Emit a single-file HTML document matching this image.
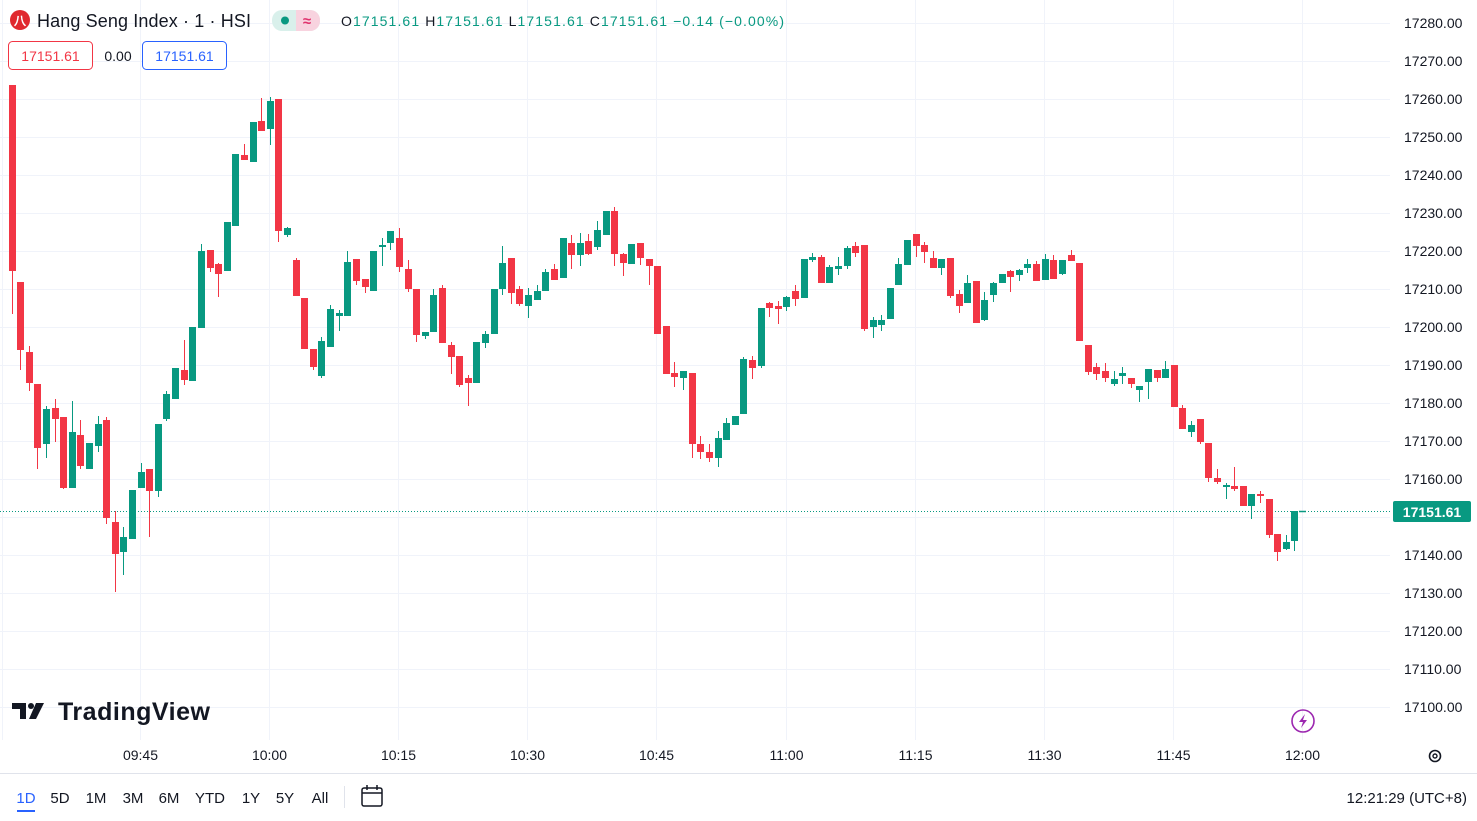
<!DOCTYPE html>
<html><head><meta charset="utf-8"><style>
html,body{margin:0;padding:0;background:#fff;overflow:hidden}
svg{display:block;font-family:"Liberation Sans",sans-serif}
</style></head><body>
<svg id="s" width="1477" height="821" xmlns="http://www.w3.org/2000/svg">
<rect width="1477" height="821" fill="#fff"/>
<g id="grid" stroke="#f0f3fa" stroke-width="1"></g>
<line x1="0" y1="511.5" x2="1392" y2="511.5" stroke="#089981" stroke-width="1" stroke-dasharray="1,2"/>
<g id="candles"></g>
<g id="yl" font-size="14" fill="#131722"></g>
<rect x="1393" y="501" width="78" height="21" rx="2" fill="#089981"/>
<text x="1432" y="517" font-size="14" fill="#fff" text-anchor="middle" font-weight="bold">17151.61</text>
<g id="xl" font-size="14" fill="#131722" text-anchor="middle"></g>
<text x="-8" y="760" font-size="14" fill="#131722">4</text>
<!-- header -->
<circle cx="20" cy="20" r="10" fill="#e0292e"/>
<text x="20" y="25" font-size="12" fill="#fff" text-anchor="middle" font-weight="bold">八</text>
<text x="37" y="27" font-size="18" fill="#131722" textLength="214">Hang Seng Index · 1 · HSI</text>
<rect x="272" y="10" width="48" height="21" rx="10" fill="#d9f0eb"/>
<path d="M296 10 h14 a10 10 0 0 1 10 10.5 a10 10 0 0 1 -10 10.5 h-14z" fill="#f8d3df"/>
<circle cx="285" cy="20.5" r="4" fill="#089981"/>
<text x="307" y="26" font-size="15" fill="#e0336d" text-anchor="middle" font-weight="bold">≈</text>
<text x="341" y="26" font-size="14" fill="#089981" textLength="443"><tspan fill="#131722">O</tspan>17151.61 <tspan fill="#131722">H</tspan>17151.61 <tspan fill="#131722">L</tspan>17151.61 <tspan fill="#131722">C</tspan>17151.61 −0.14 (−0.00%)</text>
<rect x="8.5" y="41.5" width="84" height="28" rx="4" fill="#fff" stroke="#f23645"/>
<text x="50.5" y="61" font-size="14" fill="#f23645" text-anchor="middle">17151.61</text>
<text x="118" y="61" font-size="14" fill="#131722" text-anchor="middle">0.00</text>
<rect x="142.5" y="41.5" width="84" height="28" rx="4" fill="#fff" stroke="#2962ff"/>
<text x="184.5" y="61" font-size="14" fill="#2962ff" text-anchor="middle">17151.61</text>
<!-- logo -->
<path d="M12 703 h14 v16 h-6 v-10 h-8z" fill="#131722"/>
<circle cx="31" cy="706" r="3" fill="#131722"/>
<path d="M36 703 h8 l-8 16 h-7z" fill="#131722"/>
<text x="58" y="720" font-size="25" fill="#131722" font-weight="bold" textLength="152">TradingView</text>
<!-- lightning -->
<circle cx="1303" cy="721" r="11" fill="none" stroke="#9c27b0" stroke-width="1.6"/>
<path d="M1305 714 l-6 8 h4 l-2 6 l6 -8 h-4z" fill="#9c27b0"/>
<!-- gear -->
<circle cx="1435" cy="756" r="5.5" fill="none" stroke="#131722" stroke-width="1.6"/>
<circle cx="1435" cy="756" r="2" fill="none" stroke="#131722" stroke-width="1.4"/>
<!-- bottom toolbar -->
<line x1="0" y1="773.5" x2="1477" y2="773.5" stroke="#e0e3eb"/>
<g font-size="15" fill="#131722" text-anchor="middle">
<text x="26" y="803" fill="#2962ff">1D</text>
<text x="60" y="803">5D</text><text x="96" y="803">1M</text><text x="133" y="803">3M</text>
<text x="169" y="803">6M</text><text x="210" y="803">YTD</text><text x="251" y="803">1Y</text>
<text x="285" y="803">5Y</text><text x="320" y="803">All</text>
</g>
<rect x="17" y="810" width="18" height="2" fill="#2962ff"/>
<line x1="344.5" y1="786" x2="344.5" y2="808" stroke="#e0e3eb"/>
<rect x="362" y="788" width="20" height="18" rx="2" fill="none" stroke="#131722" stroke-width="1.5"/>
<line x1="362" y1="793" x2="382" y2="793" stroke="#131722" stroke-width="1.5"/>
<line x1="367" y1="785" x2="367" y2="790" stroke="#131722" stroke-width="1.5"/>
<line x1="377" y1="785" x2="377" y2="790" stroke="#131722" stroke-width="1.5"/>
<text x="1467" y="803" font-size="15" fill="#131722" text-anchor="end">12:21:29 (UTC+8)</text>
</svg>
<script>
var NS="http://www.w3.org/2000/svg";
function el(p,t,a,txt){var e=document.createElementNS(NS,t);for(var k in a)e.setAttribute(k,a[k]);if(txt!=null)e.textContent=txt;p.appendChild(e);return e;}
var grid=document.getElementById('grid'),yl=document.getElementById('yl'),xl=document.getElementById('xl'),cg=document.getElementById('candles');
for(var k=0;k<=18;k++){var y=23+k*38;el(grid,'line',{x1:0,x2:1390,y1:y+0.5,y2:y+0.5});
 if(17280-k*10!==17150) el(yl,'text',{x:1404,y:y+5},(17280-k*10).toFixed(2));}
var tl=['09:45','10:00','10:15','10:30','10:45','11:00','11:15','11:30','11:45','12:00'];
el(grid,'line',{x1:2.5,x2:2.5,y1:0,y2:740});
for(var i=0;i<10;i++){var x=Math.round(140+129.1*i)+0.5;el(grid,'line',{x1:x,x2:x,y1:0,y2:740});el(xl,'text',{x:x,y:760},tl[i]);}
var D=[[85,271,85,314,'r'],[282,350,282,370,'r'],[352,383,346,391,'r'],[384,448,384,469,'r'],[409,444,406,458,'g'],[408,419,399,442,'r'],[417,488,417,489,'r'],[432,488,401,488,'g'],[435,466,420,469,'r'],[443,469,443,469,'g'],
[424,446,416,452,'g'],[420,518,417,524,'r'],[522,554,511,592,'r'],[537,552,527,575,'g'],[490,539,490,539,'g'],[472,488,463,488,'g'],[469,491,469,537,'r'],[424,491,424,497,'g'],[394,419,391,421,'g'],[368,399,368,399,'g'],
[370,380,340,385,'r'],[327,381,327,381,'g'],[251,328,244,328,'g'],[250,268,250,272,'r'],[264,274,263,297,'r'],[222,271,222,271,'g'],[154,226,154,226,'g'],[155,160,144,160,'r'],[122,162,122,162,'g'],[121,131,98,131,'r'],
[101,129,97,145,'g'],[99,231,99,242,'r'],[228,235,227,237,'g'],[260,296,258,296,'r'],[298,349,298,349,'r'],[349,367,349,370,'r'],[341,376,337,378,'g'],[309,347,305,347,'g'],[313,316,310,331,'g'],[262,316,251,316,'g'],
[259,281,259,285,'r'],[279,287,279,293,'r'],[251,291,251,291,'g'],[245,247,238,266,'g'],[231,243,231,250,'g'],[238,267,228,272,'r'],[269,289,260,292,'r'],[289,335,289,342,'r'],[332,336,332,339,'g'],[295,332,289,332,'g'],
[288,343,285,343,'r'],[345,357,342,374,'r'],[356,385,356,387,'r'],[378,383,375,406,'r'],[342,383,342,383,'g'],[334,343,331,348,'g'],[289,334,289,334,'g'],[263,289,246,295,'g'],[258,293,258,304,'r'],[289,304,286,306,'r'],
[295,306,288,318,'g'],[291,300,285,300,'g'],[272,291,269,291,'g'],[269,280,264,280,'r'],[238,278,238,278,'g'],[243,255,235,269,'r'],[243,255,233,266,'g'],[241,254,234,255,'r'],[230,247,221,250,'g'],[211,235,211,235,'g'],
[211,254,207,266,'r'],[254,263,253,276,'r'],[244,264,244,264,'g'],[243,258,243,265,'r'],[259,266,259,285,'r'],[266,334,266,334,'r'],[326,374,326,374,'r'],[373,377,362,387,'r'],[371,378,371,390,'g'],[373,444,373,458,'r'],
[444,452,436,459,'r'],[452,458,444,462,'r'],[438,458,431,467,'g'],[423,440,418,440,'g'],[416,425,416,425,'g'],[359,414,357,414,'g'],[360,368,356,379,'r'],[308,366,308,368,'g'],[303,308,302,317,'r'],[306,309,301,324,'r'],
[297,307,296,311,'g'],[291,299,285,306,'r'],[259,298,259,298,'g'],[257,260,253,262,'g'],[257,283,255,283,'r'],[267,283,265,283,'g'],[266,269,257,275,'g'],[248,266,246,269,'g'],[246,253,242,257,'r'],[245,329,245,331,'r'],
[320,327,317,338,'g'],[320,325,315,331,'g'],[288,319,288,319,'g'],[264,285,258,285,'g'],[240,265,240,265,'g'],[234,246,234,257,'r'],[245,252,242,263,'r'],[258,268,251,268,'r'],[259,268,259,275,'g'],[258,296,258,298,'r'],
[294,306,290,313,'r'],[283,303,275,303,'g'],[281,323,281,323,'r'],[300,320,292,321,'g'],[283,295,282,302,'g'],[274,283,274,283,'g'],[271,277,270,292,'r'],[270,275,269,281,'g'],[264,268,259,273,'g'],[264,281,261,281,'r'],
[259,280,254,280,'g'],[260,279,255,279,'r'],[260,274,260,275,'g'],[255,261,250,261,'r'],[263,341,263,341,'r'],[345,372,345,375,'r'],[367,374,363,380,'r'],[371,378,363,382,'r'],[379,384,371,386,'g'],[373,376,367,384,'g'],
[378,384,378,388,'r'],[386,390,386,402,'g'],[369,382,369,399,'g'],[370,378,370,382,'r'],[369,378,361,378,'g'],[365,407,365,407,'r'],[408,429,405,429,'r'],[425,432,421,437,'g'],[419,442,419,444,'r'],[443,478,443,482,'r'],
[478,482,469,484,'r'],[485,487,483,499,'g'],[486,489,467,491,'r'],[486,506,486,506,'r'],[494,506,494,519,'g'],[494,496,491,503,'r'],[499,535,499,538,'r'],[534,552,534,561,'r'],[542,549,535,550,'g'],[511,541,511,551,'g']];
for(var i=0;i<D.length;i++){var d=D[i],cx=11.5+8.61*i,col=d[4]=='r'?'#f23645':'#089981';
 var wx=Math.round(cx)+0.5;
 el(cg,'line',{x1:wx,x2:wx,y1:d[2],y2:d[3],stroke:col,'stroke-width':1});
 var h=Math.max(2,d[1]-d[0]);
 el(cg,'rect',{x:Math.round(cx)-3,y:d[0],width:7,height:h,fill:col});}
el(cg,'line',{x1:1299,x2:1306,y1:511.5,y2:511.5,stroke:'#089981','stroke-width':1.5});
</script>
</body></html>
